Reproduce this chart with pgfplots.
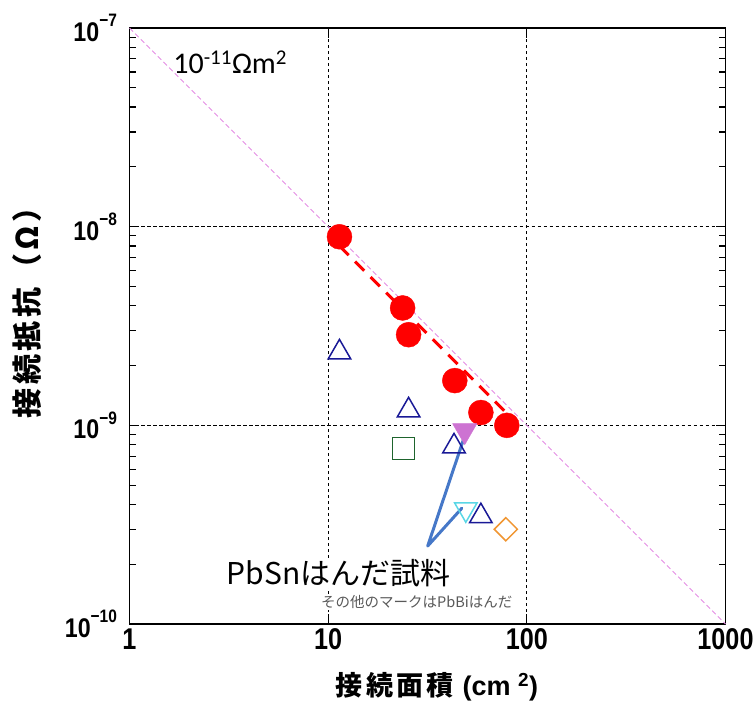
\documentclass[border=0pt]{standalone}
\usepackage{pgfplots}
\pgfplotsset{compat=1.18}
\usepackage{fontspec}
\setmainfont{Liberation Sans}
\newfontfamily\jp{Noto Sans CJK JP}
\newfontfamily\jpsp[LetterSpace=12]{Noto Sans CJK JP}
\newfontfamily\calfont{Carlito}
\newfontfamily\xtickfont[FakeStretch=0.84]{Liberation Sans}
\newfontfamily\ytickfont[FakeStretch=0.86]{Liberation Sans}
\newcommand{\ytl}[1]{10\raisebox{0.55em}{\fontsize{18}{18}\selectfont −#1}}
\definecolor{navyb}{RGB}{25,25,150}
\definecolor{greensq}{RGB}{30,100,45}
\definecolor{cyantri}{RGB}{90,215,230}
\definecolor{orangedi}{RGB}{240,150,50}
\definecolor{violettri}{RGB}{205,115,210}
\definecolor{arrowblue}{RGB}{70,120,200}
\definecolor{pinkline}{RGB}{228,140,228}
\begin{document}
\begin{tikzpicture}
\begin{axis}[
  xmode=log, ymode=log,
  scale only axis, width=596pt, height=596pt,
  xmin=1, xmax=1000, ymin=1e-10, ymax=1e-7,
  xtick={1,10,100,1000}, xticklabels={1,10,100,1000},
  ytick={1e-10,1e-9,1e-8,1e-7},
  yticklabels={\ytl{10},\ytl{9},\ytl{8},\ytl{7}},
  xminorticks=false,
  tick align=inside,
  major tick length=10pt, minor tick length=7pt,
  tick style={black, line width=1.2pt},
  axis line style={line width=1.5pt},
  xmajorgrids, ymajorgrids,
  major grid style={black, line width=0.8pt, dash pattern=on 3.5pt off 2.5pt},
  x tick label style={font=\xtickfont\bfseries\fontsize{30}{30}\selectfont, yshift=-1pt},
  y tick label style={font=\ytickfont\bfseries\fontsize{27}{27}\selectfont, xshift=-9pt},
  xlabel={{\jpsp\bfseries\fontsize{27}{27}\selectfont 接続面積}\hspace{9pt}{\bfseries\fontsize{27}{27}\selectfont (cm\ \textsuperscript{2})}},
  ylabel={\jpsp\bfseries\fontsize{30}{30}\selectfont 接続抵抗（Ω）},
  every axis x label/.style={at={(axis description cs:0.516,0)}, anchor=center, yshift=-63pt},
  every axis y label/.style={at={(axis description cs:-0.172,0.535)}, anchor=center, rotate=90},
  clip=false,
]
% reference line 1e-11 Ohm m^2
\addplot[pinkline, line width=0.8pt, dash pattern=on 5pt off 3pt] coordinates {(1,1e-7) (1000,1e-10)};
% fit line
\addplot[red, line width=3pt, dash pattern=on 13pt off 9pt] coordinates {(11.4,8.0e-9) (80,1.14e-9)};
% PbSn red circles
\addplot[only marks, mark=*, mark size=12.5pt, red, mark options={fill=red, draw=red}] coordinates {
(11.4,8.9e-9) (23.7,3.9e-9) (25.4,2.86e-9) (43.4,1.68e-9) (58.7,1.16e-9) (79.3,1.0e-9)};
% PbBi triangles
\addplot[only marks, mark=triangle, mark size=13pt, navyb, mark options={line width=1.5pt}] coordinates {
(11.4,2.33e-9) (25.4,1.19e-9) (43.0,7.84e-10) (58.7,3.49e-10)};
% green square
\addplot[only marks, mark=square, mark size=11pt, greensq, mark options={line width=1.5pt}] coordinates {(24.0,7.66e-10)};
% orange diamond
\addplot[only marks, mark=square, mark size=8.2pt, orangedi, mark options={rotate=45, line width=1.5pt}] coordinates {(78.4,3.0e-10)};
% cyan down triangle
\addplot[only marks, mark=triangle, mark size=13pt, cyantri, mark options={rotate=180, line width=1.5pt}] coordinates {(49.3,3.78e-10)};
% violet filled down triangle
\addplot[only marks, mark=triangle*, mark size=14pt, violettri, mark options={rotate=180, fill=violettri, draw=violettri}] coordinates {(48.7,9.4e-10)};
% annotation lines
\addplot[arrowblue, line width=3pt, line join=round, line cap=round] coordinates {(49.3,9.2e-10) (31.7,2.47e-10) (47.1,3.83e-10)};
% texts
\node[font=\calfont\fontsize{30}{30}\selectfont, anchor=center] at (rel axis cs:0.169,0.943) {10\textsuperscript{-11}Ωm\textsuperscript{2}};
\node[font=\jp\fontsize{30}{30}\selectfont, anchor=center, fill=white, inner sep=1pt] at (rel axis cs:0.351,0.0856) {PbSnはんだ試料};
\node[font=\jp\fontsize{14.5}{14.5}\selectfont, text=black!65, anchor=center, fill=white, inner sep=1pt] at (rel axis cs:0.482,0.037) {その他のマークはPbBiはんだ};
\end{axis}
\pgfresetboundingbox
\path[use as bounding box] (-129.5pt,-78pt) rectangle (623.5pt,624pt);
\end{tikzpicture}
\end{document}
